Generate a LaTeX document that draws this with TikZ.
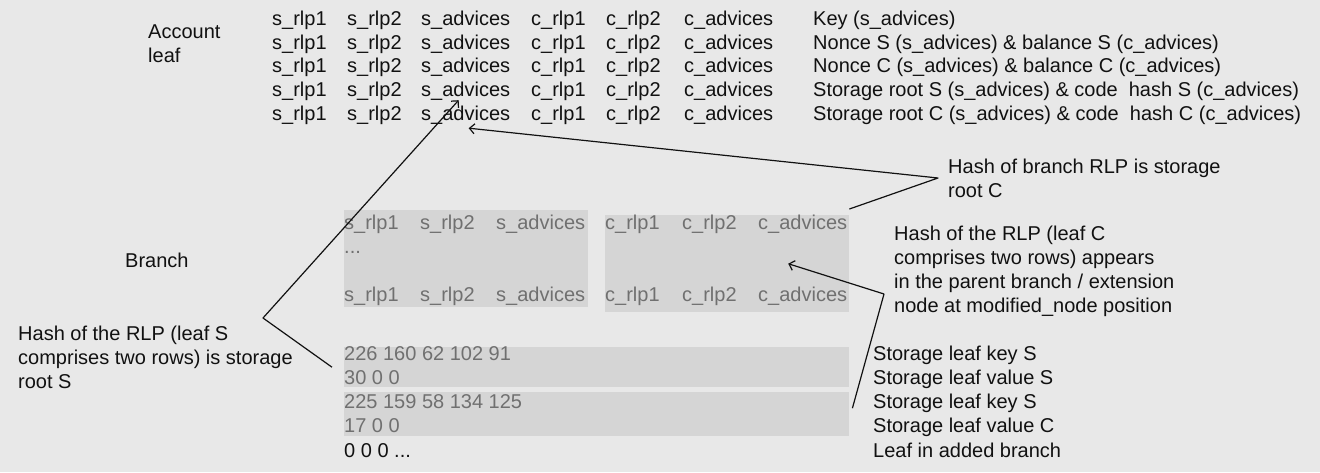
\documentclass[tikz,border=0pt]{standalone}
\usepackage{fontspec}
\setmainfont{Liberation Sans}
\usepackage{xcolor}
\usepackage{tikz}
\usetikzlibrary{arrows.meta, positioning, calc}
\definecolor{mybg}{RGB}{232,232,232}
\definecolor{myrow}{RGB}{213,213,213}
\definecolor{mygray}{RGB}{112,112,112}
\definecolor{mydark}{RGB}{17,17,17}
\tikzset{
  txt/.style={anchor=base west, inner sep=0pt, align=left,
    font=\fontsize{20}{24}\selectfont, text=mydark},
  graytxt/.style={txt, text=mygray},
  rowbox/.style={rectangle, fill=myrow, draw=none, inner sep=0pt,
    anchor=north west},
  arrow/.style={-{Straight Barb[length=5pt,width=10pt]}, line width=1.2pt,
    color=mydark, line join=round}
}

\begin{document}
\begin{tikzpicture}[x=1pt,y=-1pt]
  \useasboundingbox[fill=mybg] (0,0) rectangle (1320,472);

  % Account leaf rows (multi-line nodes sit on their last baseline)
  \node[txt] (acc) at (148,62) {Account\\leaf};
  \foreach \r/\y/\desc in {
    1/25/{Key (s\_advices)},
    2/49/{Nonce S (s\_advices) \& balance S (c\_advices)},
    3/72/{Nonce C (s\_advices) \& balance C (c\_advices)},
    4/96/{Storage root S (s\_advices) \& code\ \ hash S (c\_advices)},
    5/120/{Storage root C (s\_advices) \& code\ \ hash C (c\_advices)}} {
    \node[txt] (sa\r) at (272,\y) {s\_rlp1};
    \node[txt] (sb\r) at (347,\y) {s\_rlp2};
    \node[txt] (sc\r) at (421,\y) {s\_advices};
    \node[txt] (ca\r) at (531,\y) {c\_rlp1};
    \node[txt] (cb\r) at (606,\y) {c\_rlp2};
    \node[txt] (cc\r) at (684,\y) {c\_advices};
    \node[txt] (desc\r) at (813,\y) {\desc};
  }

  % Branch
  \node[txt] (branch) at (125,267) {Branch};
  \node[rowbox, minimum width=244pt, minimum height=97pt] (brS) at (344,210) {};
  \node[rowbox, minimum width=244pt, minimum height=97pt] (brC) at (605,215) {};
  \foreach \r/\y in {1/229, 4/301} {
    \node[graytxt] (bsa\r) at (344,\y) {s\_rlp1};
    \node[graytxt] (bsb\r) at (420,\y) {s\_rlp2};
    \node[graytxt] (bsc\r) at (496,\y) {s\_advices};
    \node[graytxt] (bca\r) at (605,\y) {c\_rlp1};
    \node[graytxt] (bcb\r) at (682,\y) {c\_rlp2};
    \node[graytxt] (bcc\r) at (758,\y) {c\_advices};
  }
  \node[graytxt] (bdots) at (344,253) {...};

  % Storage leaf rows
  \node[rowbox, minimum width=505pt, minimum height=40pt] (leafS) at (344,347) {};
  \node[rowbox, minimum width=505pt, minimum height=44pt] (leafC) at (344,392) {};
  \node[graytxt] (keyS) at (344,360) {226 160 62 102 91};
  \node[graytxt] (valS) at (344,384) {30 0 0};
  \node[graytxt] (keyC) at (344,408) {225 159 58 134 125};
  \node[graytxt] (valC) at (344,432) {17 0 0};
  \node[txt] (added) at (344,457) {0 0 0 ...};
  \node[txt] (lkeyS) at (873,360) {Storage leaf key S};
  \node[txt] (lvalS) at (873,384) {Storage leaf value S};
  \node[txt] (lkeyC) at (873,408) {Storage leaf key S};
  \node[txt] (lvalC) at (873,432) {Storage leaf value C};
  \node[txt] (ladded) at (873,457) {Leaf in added branch};

  % Notes
  \node[txt] (noteS) at (18,388) {Hash of the RLP (leaf S\\comprises two rows) is storage\\root S};
  \node[txt] (noteBr) at (948,197) {Hash of branch RLP is storage\\root C};
  \node[txt] (noteC) at (894,312) {Hash of the RLP (leaf C\\comprises two rows) appears\\in the parent branch / extension\\node at modified\_node position};

  % Connectors
  \coordinate (kinkS) at (263,318);
  \coordinate (kinkBr) at (938,178);
  \coordinate (kinkC) at (884,294);
  \draw[arrow] ([xshift=-12pt]leafS.west) -- (kinkS) -- ([xshift=-7pt]sc4.south);
  \draw[arrow] ([yshift=6pt]brC.north east) -- (kinkBr) -- ([xshift=3pt,yshift=-4pt]sc5.south);
  \draw[arrow] ([xshift=3pt,yshift=6pt]leafC.east) -- (kinkC) -- ([xshift=61pt]brC.center);
\end{tikzpicture}
\end{document}
